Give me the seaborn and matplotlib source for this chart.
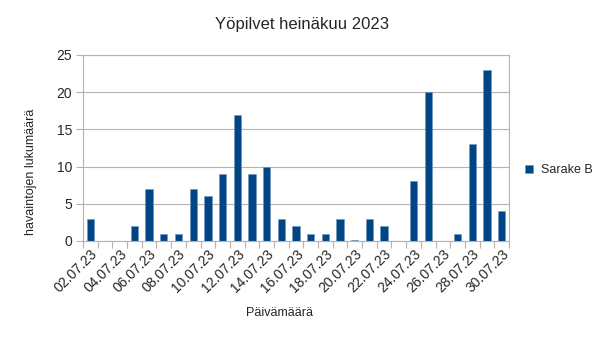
import matplotlib
matplotlib.use("Agg")
import matplotlib.pyplot as plt
import seaborn as sns
import pandas as pd
from matplotlib.ticker import FixedLocator

sns.set_theme(style="white")
plt.rcParams['font.family'] = ['Liberation Sans', 'DejaVu Sans']

dates = [f"{d:02d}.07.23" for d in range(2, 31)]
values = [3, 0, 0, 2, 7, 1, 1, 7, 6, 9, 17, 9, 10, 3, 2, 1, 1, 3, 0.1, 3, 2, 0, 8, 20, 0, 1, 13, 23, 4]
series_name = "Sarake B"
title = "Yöpilvet heinäkuu 2023"
xlabel = "Päivämäärä"
ylabel = "havaintojen lukumäärä"

df = pd.DataFrame({"date": dates, "value": values})

fig = plt.figure(figsize=(6.05, 3.41), dpi=100)
ax = fig.add_axes([83/605, 1-241/341, (509-83)/605, (241-55)/341])

sns.barplot(data=df, x="date", y="value", color="#004586", width=0.5,
            saturation=1, label=series_name, ax=ax, edgecolor="#6f93c0", linewidth=0.4)

ax.set_ylim(0, 25)
ax.set_xlim(-0.5, len(dates) - 0.5)
ax.set_yticks([0, 5, 10, 15, 20, 25])
ax.yaxis.grid(True, color="#b3b3b3", linewidth=0.8)
ax.set_axisbelow(True)
for s in ax.spines.values():
    s.set_color("#b3b3b3")
    s.set_linewidth(0.8)

# labels every other day
ax.set_xticks(range(0, len(dates), 2))
ax.set_xticklabels(dates[::2], rotation=45, ha="right", rotation_mode="anchor", fontsize=10)
ax.tick_params(axis="x", which="major", length=0, pad=4)
ax.xaxis.set_minor_locator(FixedLocator([i - 0.5 for i in range(len(dates) + 1)]))
ax.tick_params(axis="x", which="minor", length=5, color="#b3b3b3", width=0.8, bottom=True)
ax.tick_params(axis="y", length=5, color="#b3b3b3", width=0.8, left=True, labelsize=10, pad=3)

ax.set_xlabel(xlabel, fontsize=9)
ax.xaxis.set_label_coords(0.462, -0.355)
ax.set_ylabel(ylabel, fontsize=9)
ax.yaxis.set_label_coords(-0.107, 0.37)
fig.suptitle(title, fontsize=12, x=302/605, y=1-25/341, va="center")

ax.legend(loc="center left", bbox_to_anchor=(1.01, 0.38), frameon=False,
          fontsize=9, handlelength=0.7, handleheight=0.7, handletextpad=0.6)

fig.savefig("out.png", dpi=100)
